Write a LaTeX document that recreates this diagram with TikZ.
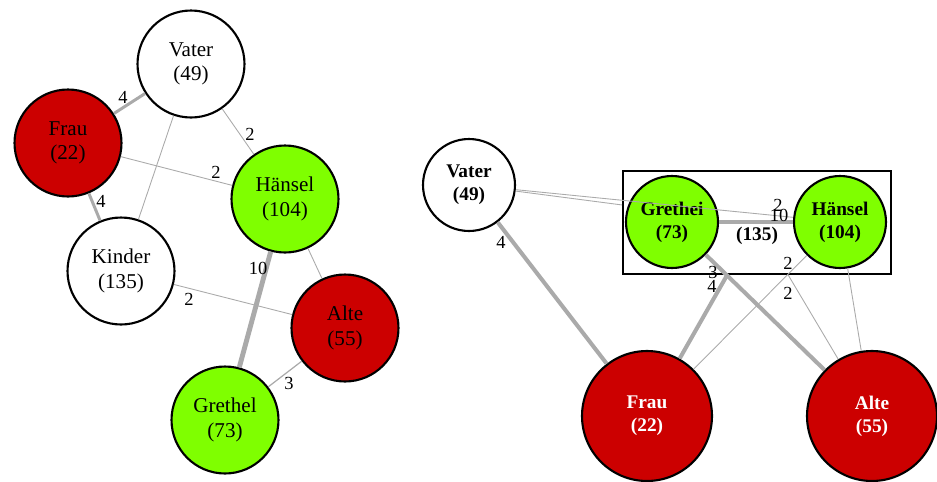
\documentclass[tikz,border=0pt]{standalone}
\usepackage{fontspec}
\setmainfont{Liberation Serif}
\definecolor{nodered}{RGB}{204,0,0}
\definecolor{nodegreen}{RGB}{127,255,0}
\definecolor{edgegray}{RGB}{170,170,170}

\tikzset{
  lnode/.style={circle, draw, line width=1.2pt, minimum size=2.14cm, inner sep=0pt,
    align=center, font=\fontsize{12}{14}\selectfont},
  rnode/.style={circle, draw, line width=1.2pt, minimum size=1.84cm, inner sep=0pt,
    align=center, font=\bfseries\fontsize{11}{13}\selectfont},
  bignode/.style={rnode, minimum size=2.6cm, text=white},
  kinderbox/.style={rectangle, draw, line width=1.1pt, minimum width=5.36cm,
    minimum height=2.06cm, inner sep=0pt},
  wlabel/.style={font=\fontsize{10.5}{12}\selectfont, inner sep=0pt},
  wtwo/.style={draw=edgegray, line width=0.5pt},
  wthree/.style={draw=edgegray, line width=0.7pt},
  wfour/.style={draw=edgegray, line width=1.7pt},
  wten/.style={draw=edgegray, line width=2.8pt},
  wbold/.style={draw=edgegray, line width=2.3pt}
}

\begin{document}
\begin{tikzpicture}[x=0.02cm, y=-0.02cm]
\useasboundingbox (0,0) rectangle (937,481);

% left graph
\node[lnode] (lvater) at (191,64) {Vater\\(49)};
\node[lnode, fill=nodered] (lfrau) at (68,143) {Frau\\(22)};
\node[lnode, fill=nodegreen] (lhaensel) at (285,199) {Hänsel\\(104)};
\node[lnode] (lkinder) at (121,271) {Kinder\\(135)};
\node[lnode, fill=nodered] (lalte) at (345,328) {Alte\\(55)};
\node[lnode, fill=nodegreen] (lgrethel) at (225,420) {Grethel\\(73)};

\draw[wfour] (lvater) -- (lfrau);
\draw[wtwo] (lvater) -- (lkinder);
\draw[wtwo] (lvater) -- (lhaensel);
\draw[wtwo] (lfrau) -- (lhaensel);
\draw[wfour] (lfrau) -- (lkinder);
\draw[wtwo] (lhaensel) -- (lalte);
\draw[wten] (lhaensel) -- (lgrethel);
\draw[wtwo] (lkinder) -- (lalte);
\draw[wthree] (lgrethel) -- (lalte);

\node[wlabel] at (123,97) {4};
\node[wlabel] at (250,134) {2};
\node[wlabel] at (216,172) {2};
\node[wlabel] at (101,201) {4};
\node[wlabel] at (258,268) {10};
\node[wlabel] at (189,299) {2};
\node[wlabel] at (289,383) {3};

% right graph, Kinder as a box round the two children
\node[kinderbox] (rkinder) at (757,222.5) {};
\node[rnode] (rvater) at (469,185) {Vater\\(49)};
\node[rnode, fill=nodegreen] (rgrethel) at (672,222) {Grethei\\(73)};
\node[rnode, fill=nodegreen] (rhaensel) at (840,222) {Hänsel\\(104)};
\node[bignode, fill=nodered] (rfrau) at (647,416) {Frau\\(22)};
\node[bignode, fill=nodered] (ralte) at (872,416) {Alte\\(55)};
\node[font=\bfseries\fontsize{11}{13}\selectfont] at (757,236) {(135)};

\draw[wbold] (rvater) -- (rfrau);
\draw[wtwo] (rvater) -- (rkinder);
\draw[wtwo] (rvater) -- (rhaensel);
\draw[wbold] (rgrethel) -- (rhaensel);
\draw[wbold] (rgrethel) -- (ralte);
\draw[wbold] (rfrau) -- (rkinder);
\draw[wtwo] (rfrau) -- (rhaensel);
\draw[wtwo] (rkinder) -- (ralte);
\draw[wtwo] (rhaensel) -- (ralte);

\node[wlabel] at (501,242) {4};
\node[wlabel] at (778,205) {2};
\node[wlabel] at (779,215) {10};
\node[wlabel] at (713,272) {3};
\node[wlabel] at (712,286) {4};
\node[wlabel] at (788,263) {2};
\node[wlabel] at (788,293) {2};
\end{tikzpicture}
\end{document}
